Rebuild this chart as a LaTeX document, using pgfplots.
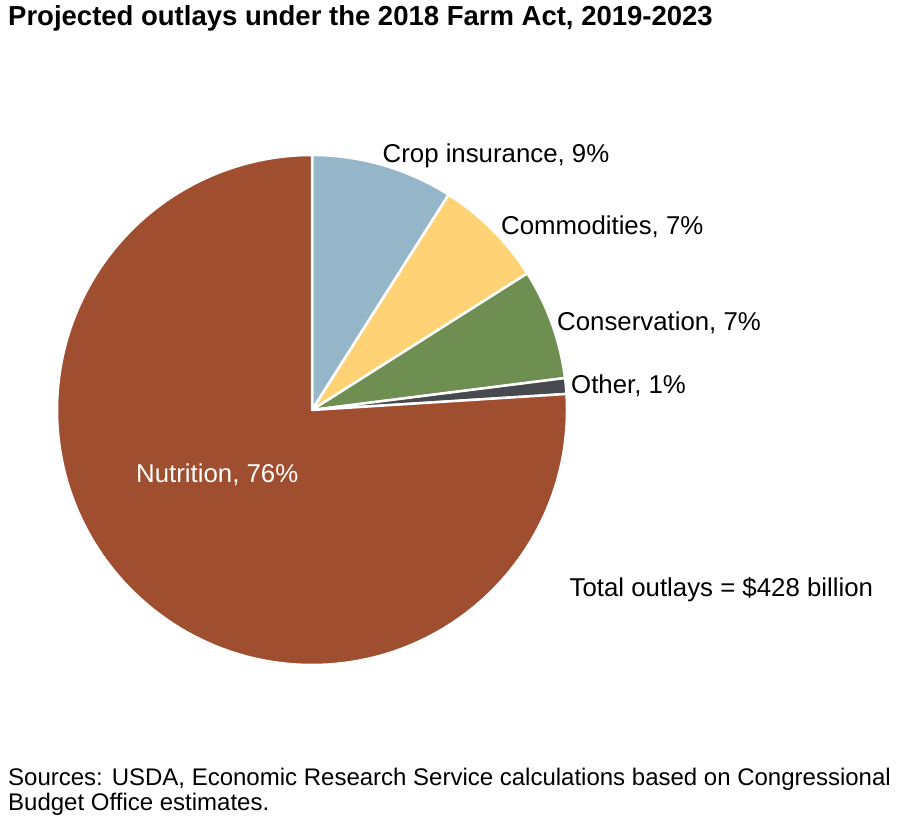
\documentclass[border=0pt]{standalone}
\usepackage{pgfplots}
\pgfplotsset{compat=1.18}
\usepackage{pgfplotstable}
\usepackage{fontspec}
\setmainfont{Liberation Sans}
\definecolor{cropc}{HTML}{94B6C8}
\definecolor{commc}{HTML}{FFD375}
\definecolor{consc}{HTML}{6F8F52}
\definecolor{othc}{HTML}{46494E}
\definecolor{nutc}{HTML}{A04E30}
% share of outlays, percent, clockwise from 12 o'clock
\pgfplotstableread[col sep=comma]{
name,pct,col
Crop insurance,9,cropc
Commodities,7,commc
Conservation,7,consc
Other,1,othc
Nutrition,76,nutc
}\slices
\begin{document}
\begin{tikzpicture}[x=1bp,y=1bp]
\path[use as bounding box] (0,0) rectangle (904,825);
\begin{axis}[at={(312bp,415bp)}, anchor=origin,
  width=510bp, height=510bp, scale only axis,
  xmin=-1, xmax=1, ymin=-1, ymax=1, hide axis, clip=false]
\pgfplotstablegetrowsof{\slices}
\pgfmathtruncatemacro{\nrows}{\pgfplotsretval-1}
\gdef\cum{0}
\pgfplotsforeachungrouped \i in {0,...,\nrows}{%
  \pgfplotstablegetelem{\i}{pct}\of{\slices}\let\p\pgfplotsretval
  \pgfplotstablegetelem{\i}{col}\of{\slices}\let\c\pgfplotsretval
  \pgfmathsetmacro{\aone}{90-3.6*\cum}
  \pgfmathsetmacro{\atwo}{90-3.6*(\cum+\p)}
  \edef\temp{\noexpand\fill[\c, draw=white, line width=2.5bp, line join=round]
    (axis cs:0,0) -- ++(\aone:255bp) arc[start angle=\aone, end angle=\atwo, radius=255bp] -- cycle;}
  \temp
  \pgfmathsetmacro{\newcum}{\cum+\p}
  \xdef\cum{\newcum}
}
\end{axis}
\fontsize{25.8bp}{31bp}\selectfont
\node[anchor=base west, inner sep=0, font=\bfseries\fontsize{27.5bp}{32bp}\selectfont] at (8,799) {Projected outlays under the 2018 Farm Act, 2019-2023};
\node[anchor=base west, inner sep=0] at (382.5,662) {Crop insurance, 9\%};
\node[anchor=base west, inner sep=0] at (501,590.5) {Commodities, 7\%};
\node[anchor=base west, inner sep=0] at (557,494) {Conservation, 7\%};
\node[anchor=base west, inner sep=0] at (571,431) {Other, 1\%};
\node[anchor=base west, inner sep=0, text=white] at (136,342) {Nutrition, 76\%};
\node[anchor=base west, inner sep=0] at (569.5,228) {Total outlays = \$428 billion};
\node[anchor=base west, inner sep=0, font=\fontsize{24bp}{27bp}\selectfont] at (8,39) {Sources: USDA, Economic Research Service calculations based on Congressional};
\node[anchor=base west, inner sep=0, font=\fontsize{24bp}{27bp}\selectfont] at (8,14) {Budget Office estimates.};
\end{tikzpicture}
\end{document}
